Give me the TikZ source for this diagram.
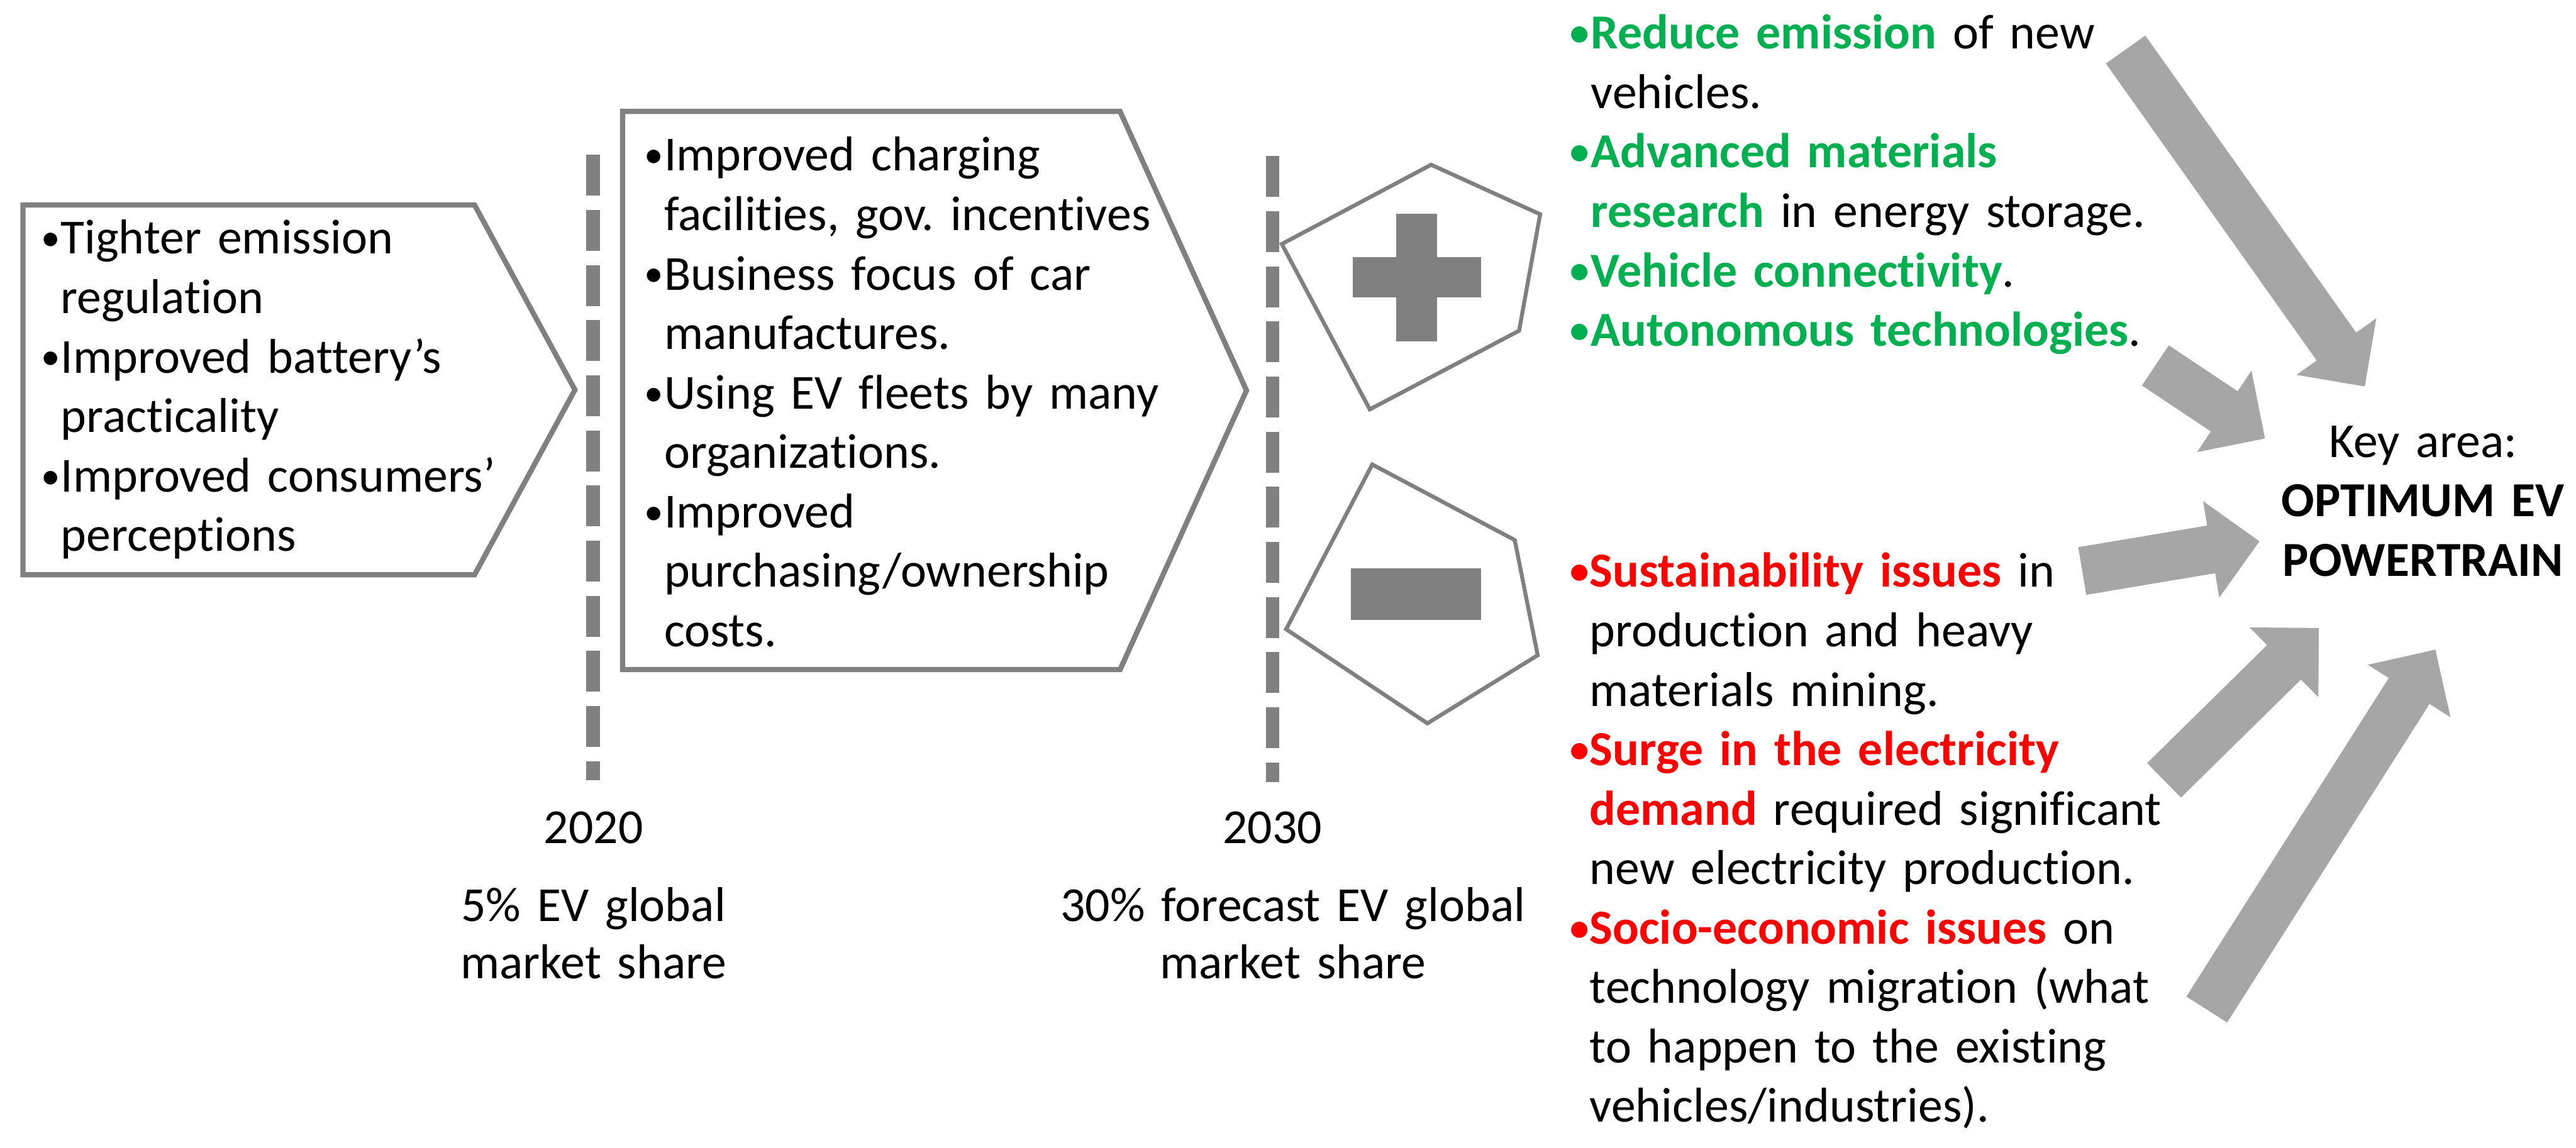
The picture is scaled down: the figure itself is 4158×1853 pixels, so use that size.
\documentclass[tikz,border=0pt]{standalone}
\usepackage{fontspec}
\setmainfont{Carlito}[Ligatures=NoCommon]
\usetikzlibrary{calc}
\definecolor{boxgray}{HTML}{808080}
\definecolor{arrgray}{HTML}{A6A6A6}
\definecolor{evgreen}{HTML}{00B050}
\definecolor{evred}{HTML}{FF0000}
\frenchspacing
\newcommand\smallbullet{\raisebox{1.3pt}{\fontsize{15.5pt}{15.5pt}\selectfont\textbullet}}
\newcommand\bul{\noindent\hangindent=8pt\hangafter=1\makebox[8pt][l]{\smallbullet}}
\newcommand\gbul{\noindent\hangindent=8.5pt\hangafter=1\makebox[8.5pt][l]{\color{evgreen}\bfseries\smallbullet}}
\newcommand\rbul{\noindent\hangindent=8pt\hangafter=1\makebox[8pt][l]{\color{evred}\bfseries\smallbullet}}
\newcommand\G[1]{{\bfseries\color{evgreen}#1}}
\newcommand\R[1]{{\bfseries\color{evred}#1}}
\newcommand\blockarrow[2]{%
  \coordinate (#1h) at ($(#2)!19.75pt!(#1)$);
  \fill[arrgray] ($(#1)!9.75pt!-90:(#2)$) -- ($(#1h)!9.75pt!-90:(#2)$)
    -- ($(#1h)!19.75pt!-90:(#2)$) -- (#2) -- ($(#1h)!19.75pt!90:(#2)$)
    -- ($(#1h)!9.75pt!90:(#2)$) -- ($(#1)!9.75pt!90:(#2)$) -- cycle;}
\begin{document}
\begin{tikzpicture}[x=0.25pt,y=-0.25pt,
  txt/.style={inner sep=0pt, outer sep=0pt, text width=#1, align=left,
    font=\fontsize{19.75pt}{24pt}\selectfont},
  lbl/.style={inner sep=0pt, outer sep=0pt, text width=300pt, align=center,
    font=\fontsize{19.75pt}{23pt}\selectfont},
  chevron/.style={draw=boxgray, line width=2.1pt, line join=miter},
  penta/.style={draw=boxgray, line width=1.6pt, line join=miter},
  timeline/.style={draw=boxgray, line width=5.5pt, dash pattern=on 16.5pt off 5.75pt},
  sign/.style={fill=boxgray}]
\useasboundingbox (0,0) rectangle (4158,1853);

% chevron boxes
\draw[chevron] (37,331) -- (766,331) -- (928,629.5) -- (766,928) -- (37,928) -- cycle;
\draw[chevron] (1005,180) -- (1808,180) -- (2012,630.5) -- (1808,1081) -- (1005,1081) -- cycle;

\node[txt=250pt, anchor=base west] (box1) at (66,410)
  {\bul Tighter emission\newline regulation\par
   \bul Improved battery’s\newline practicality\par
   \bul Improved consumers’\newline perceptions\par};
\node[txt=250pt, anchor=base west] (box2) at (1040,276)
  {\bul Improved charging\newline facilities, gov. incentives\par
   \bul Business focus of car\newline manufactures.\par
   \bul Using EV fleets by many\newline organizations.\par
   \bul Improved\newline purchasing/ownership\newline costs.\par};

% timelines
\coordinate (l20top) at (957,250);
\coordinate (l20bot) at (957,1260);
\coordinate (l30top) at (2054,252);
\coordinate (l30bot) at (2054,1263);
\draw[timeline] (l20top) -- (l20bot);
\draw[timeline] (l30top) -- (l30bot);

\node[lbl, anchor=base] (y2020) at (958,1362) {2020};
\node[lbl, anchor=base] (s2020) at (958,1488) {5\% EV global\\market share};
\node[lbl, anchor=base] (y2030) at (2054,1362) {2030};
\node[lbl, anchor=base] (s2030) at (2087,1488) {30\% forecast EV global\\market share};

% pentagons with signs
\draw[penta] (2310,266) -- (2486,346) -- (2452,534) -- (2211,661) -- (2069,394) -- cycle;
\fill[sign] (2254,345) rectangle (2320,551);
\fill[sign] (2184,415) rectangle (2391,480);
\draw[penta] (2215,750) -- (2445,872) -- (2482,1058) -- (2304,1168) -- (2076,1016) -- cycle;
\fill[sign] (2180,918) rectangle (2391,1001);

% right-hand texts
\node[txt=260pt, anchor=base west] (plus) at (2534,79)
  {\gbul\G{Reduce emission} of new\newline vehicles.\par
   \gbul\G{Advanced materials}\newline\G{research} in energy storage.\par
   \gbul\G{Vehicle connectivity}.\par
   \gbul\G{Autonomous technologies}.\par};
\node[txt=260pt, anchor=base west] (minus) at (2534,948)
  {\rbul\R{Sustainability issues} in\newline production and heavy\newline materials mining.\par
   \rbul\R{Surge in the electricity}\newline\R{demand} required significant\newline new electricity production.\par
   \rbul\R{Socio-economic issues} on\newline technology migration (what\newline to happen to the existing\newline vehicles/industries).\par};

\node[txt=150pt, align=center, anchor=base] (key) at (3911,738)
  {Key area:\\\textbf{OPTIMUM EV}\\\textbf{POWERTRAIN}};

% block arrows
\coordinate (t1) at (3431,80);   \coordinate (p1) at (3817,624);
\coordinate (t2) at (3479,590);  \coordinate (p2) at (3656,708);
\coordinate (t3) at (3361,922);  \coordinate (p3) at (3647,874);
\coordinate (t4) at (3493,1260); \coordinate (p4) at (3743,1014);
\coordinate (t5) at (3562,1630); \coordinate (p5) at (3931,1049);
\blockarrow{t1}{p1}
\blockarrow{t2}{p2}
\blockarrow{t3}{p3}
\blockarrow{t4}{p4}
\blockarrow{t5}{p5}
\end{tikzpicture}
\end{document}
